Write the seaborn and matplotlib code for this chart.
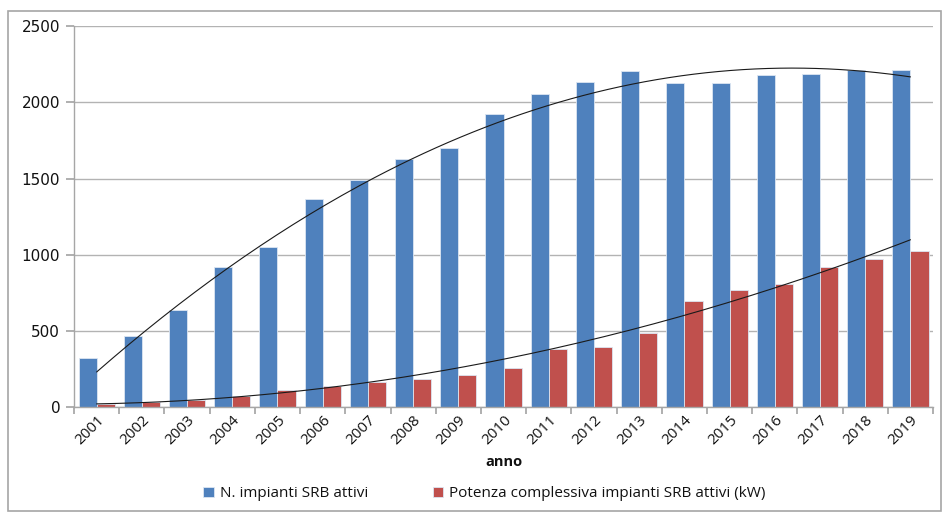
import numpy as np
import pandas as pd
import matplotlib
matplotlib.use("Agg")
import matplotlib.pyplot as plt
import seaborn as sns

years = [str(y) for y in range(2001, 2020)]
impianti = [320, 465, 640, 920, 1050, 1365, 1490, 1625, 1700, 1925,
            2055, 2135, 2205, 2130, 2125, 2180, 2185, 2215, 2210]
potenza = [22, 30, 48, 74, 111, 135, 164, 186, 212, 258,
           384, 394, 489, 695, 769, 809, 916, 971, 1023]

lbl_n = "N. impianti SRB attivi"
lbl_p = "Potenza complessiva impianti SRB attivi (kW)"

df = pd.DataFrame({
    "anno": years * 2,
    "valore": impianti + potenza,
    "serie": [lbl_n] * len(years) + [lbl_p] * len(years),
})

sns.set_theme(style="white")
plt.rcParams["font.family"] = ["DejaVu Sans"]
plt.rcParams["text.color"] = "#111111"

fig = plt.figure(figsize=(9.43, 5.13), dpi=100)
ax = fig.add_axes([0.0785, 0.2066, 0.911, 0.7424])

sns.barplot(data=df, x="anno", y="valore", hue="serie",
            palette=["#4F81BD", "#C0504D"], saturation=1, width=0.8, gap=0,
            edgecolor="#dce6f2", linewidth=0.6, ax=ax, legend=True)

# polynomial trend lines through each series
xs = np.arange(len(years))
xfine = np.linspace(0, len(years) - 1, 200)
for vals in (impianti, potenza):
    coef = np.polyfit(xs + 1, vals, 2)
    ax.plot(xfine, np.polyval(coef, xfine + 1), color="#1a1a1a", lw=0.8, zorder=5)

ax.set_ylim(0, 2500)
ax.set_xlim(-0.5, len(years) - 0.5)
ax.set_yticks(range(0, 2501, 500))
ax.yaxis.grid(True, color="#b3b3b3", lw=1.0)
ax.set_axisbelow(True)

for side in ("top", "right"):
    ax.spines[side].set_visible(False)
for side in ("left", "bottom"):
    ax.spines[side].set_color("#a6a6a6")
    ax.spines[side].set_linewidth(1.0)

# category ticks sit between the groups, labels at group centres
ax.set_xticks(np.arange(-0.5, len(years), 1.0), minor=False)
ax.set_xticklabels([])
ax.set_xticks(xs, minor=True)
ax.set_xticklabels(years, minor=True, rotation=45, ha="right",
                   rotation_mode="anchor", fontsize=11, family="Open Sans",
                   color="#111111")
ax.tick_params(axis="x", which="major", direction="out", length=5,
               color="#a6a6a6", bottom=True)
ax.tick_params(axis="x", which="minor", length=0, pad=4, bottom=True)
ax.tick_params(axis="y", direction="out", length=6, color="#a6a6a6",
               labelsize=11, pad=4, left=True, labelcolor="#111111")

ax.set_xlabel("anno", fontsize=10.5, fontweight="bold", family="Open Sans",
              labelpad=5, color="#111111")
ax.set_ylabel("")

handles, labels = ax.get_legend_handles_labels()
ax.legend(handles, labels, loc="center", bbox_to_anchor=(0.478, -0.228),
          ncol=2, frameon=False, handlelength=0.7, handleheight=0.7,
          columnspacing=4.2, handletextpad=0.4,
          prop={"family": "Open Sans", "size": 11})

# outer frame around the whole chart
fig.add_artist(plt.Rectangle((0.008, 0.004), 0.99, 0.974, transform=fig.transFigure,
                             fill=False, edgecolor="#a6a6a6", lw=1.2))

fig.savefig("out.png", dpi=100)
